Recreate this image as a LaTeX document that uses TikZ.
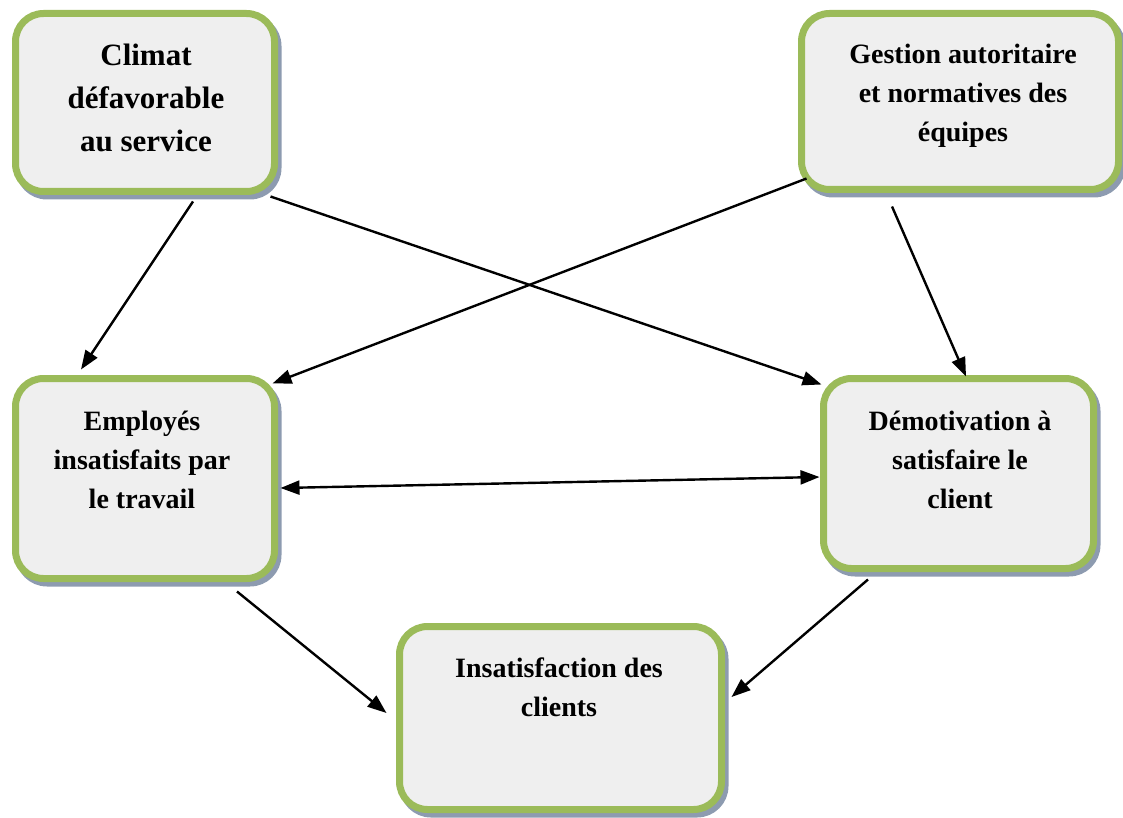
\documentclass[tikz,border=0pt]{standalone}
\usepackage{fontspec}
\setmainfont{Liberation Serif}
\usetikzlibrary{arrows.meta,calc}
\definecolor{boxgreen}{HTML}{9BBB59}
\definecolor{boxfill}{HTML}{EFEFEF}
\definecolor{boxshadow}{HTML}{8D9BB0}
\begin{document}
\begin{tikzpicture}[x=1pt,y=-1pt,
  cardbox/.style={draw=boxgreen,line width=7pt,fill=boxfill,rounded corners=28pt,
    inner sep=0pt,
    preaction={fill=boxshadow,draw=boxshadow,line width=7pt,transform canvas={shift={(3.5pt,-4.5pt)}}}},
  cardtext/.style={anchor=north,inner sep=0pt,align=center,font=\bfseries\fontsize{28}{39}\selectfont},
  link/.style={line width=2.4pt,-{Triangle[length=19pt,width=14pt]}}]
\useasboundingbox (0,0) rectangle (1123,818);

% boxes
\node[cardbox,minimum width=259pt,minimum height=178pt] (b1) at (145,102.5) {};
\node[cardbox,minimum width=317pt,minimum height=176pt] (b2) at (960,101.5) {};
\node[cardbox,minimum width=259pt,minimum height=200pt] (b3) at (145,478.5) {};
\node[cardbox,minimum width=270pt,minimum height=190pt] (b4) at (958.5,473.5) {};
\node[cardbox,minimum width=322pt,minimum height=183pt] (b5) at (560.5,718) {};

% labels
\node[cardtext,font=\bfseries\fontsize{31}{43}\selectfont] (t1) at (146,44) {Climat\\défavorable\\au service};
\node[cardtext] (t2) at (963,43.5) {Gestion autoritaire\\et normatives des\\équipes};
\node[cardtext] (t3) at (142,410.5) {Employés\\insatisfaits par\\le travail};
\node[cardtext] (t4) at (960,411) {Démotivation à\\satisfaire le\\client};
\node[cardtext] (t5) at (559,657.5) {Insatisfaction des\\clients};

% connectors
\draw[link] ($(b1.south)+(48,6.5)$) -- ($(b3.north)+(-64,-5.5)$);
\draw[link] ($(b1.south east)+(-7.5,1.5)$) -- ($(b4.north west)+(1.5,9.5)$);
\draw[link] ($(b2.south west)+(8.5,-14.5)$) -- ($(b3.north east)+(-5.5,8.5)$);
\draw[link] ($(b2.south)+(-68,13.5)$) -- ($(b4.north)+(7.5,1.5)$);
\draw[line width=2.4pt,{Triangle[length=19pt,width=14pt]}-{Triangle[length=19pt,width=14pt]}]
  ($(b3.east)+(2.5,9.5)$) -- ($(b4.west)+(-0.5,3.5)$);
\draw[link] ($(b3.south)+(92,9.5)$) -- ($(b5.west)+(-9.5,-5)$);
\draw[link] ($(b4.south)+(-90.5,7.5)$) -- ($(b5.east)+(6.5,-21)$);
\end{tikzpicture}
\end{document}
